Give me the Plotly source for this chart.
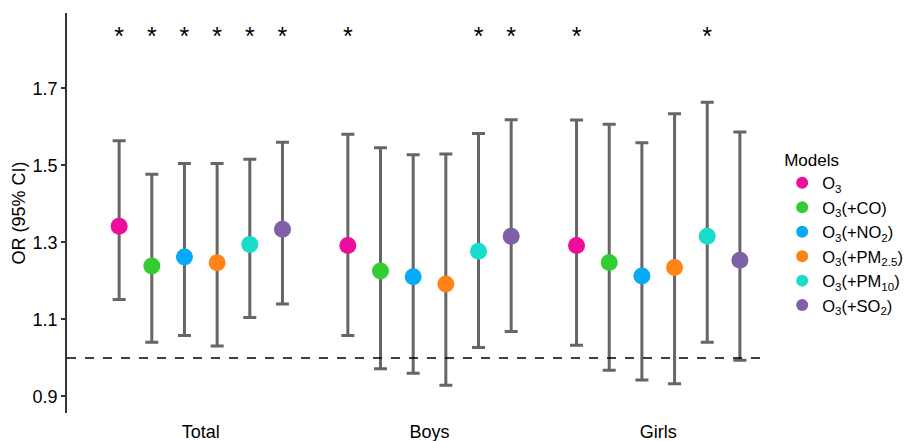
import plotly.graph_objects as go

groups = ["Total", "Boys", "Girls"]
models = ["O<sub>3</sub>", "O<sub>3</sub>(+CO)", "O<sub>3</sub>(+NO<sub>2</sub>)",
          "O<sub>3</sub>(+PM<sub>2.5</sub>)", "O<sub>3</sub>(+PM<sub>10</sub>)", "O<sub>3</sub>(+SO<sub>2</sub>)"]
colors = ["#F00C9B", "#33CC33", "#06AAF5", "#FF8415", "#19DDCB", "#7F5FA8"]

# OR estimates per model, ordered Total, Boys, Girls
or_O3 = [1.342, 1.292, 1.292]
or_CO = [1.239, 1.226, 1.248]
or_NO2 = [1.262, 1.211, 1.213]
or_PM25 = [1.247, 1.192, 1.235]
or_PM10 = [1.295, 1.277, 1.316]
or_SO2 = [1.334, 1.316, 1.254]

lo_O3 = [1.152, 1.058, 1.033]
lo_CO = [1.041, 0.972, 0.968]
lo_NO2 = [1.058, 0.960, 0.943]
lo_PM25 = [1.031, 0.929, 0.933]
lo_PM10 = [1.105, 1.027, 1.041]
lo_SO2 = [1.140, 1.069, 0.994]

hi_O3 = [1.564, 1.581, 1.618]
hi_CO = [1.477, 1.546, 1.607]
hi_NO2 = [1.505, 1.528, 1.559]
hi_PM25 = [1.505, 1.530, 1.634]
hi_PM10 = [1.516, 1.583, 1.664]
hi_SO2 = [1.560, 1.619, 1.587]

# significance flags (1 = "*")
sig_O3 = [1, 1, 1]
sig_CO = [1, 0, 0]
sig_NO2 = [1, 0, 0]
sig_PM25 = [1, 0, 0]
sig_PM10 = [1, 1, 1]
sig_SO2 = [1, 1, 0]

ORs = [or_O3, or_CO, or_NO2, or_PM25, or_PM10, or_SO2]
LOs = [lo_O3, lo_CO, lo_NO2, lo_PM25, lo_PM10, lo_SO2]
HIs = [hi_O3, hi_CO, hi_NO2, hi_PM25, hi_PM10, hi_SO2]
SIGs = [sig_O3, sig_CO, sig_NO2, sig_PM25, sig_PM10, sig_SO2]

y_ticks = [0.9, 1.1, 1.3, 1.5, 1.7]
NULL_OR = 1.0
STAR_Y = 1.83
DODGE = 0.857

FONT = "Liberation Sans, Arial"

fig = go.Figure()
n = len(models)
step = DODGE / n
for i, (m, c) in enumerate(zip(models, colors)):
    off = (i - (n - 1) / 2) * step
    xs = [g + off for g in range(len(groups))]
    est = ORs[i]
    fig.add_trace(go.Scatter(
        x=xs, y=est, mode="markers", name=m,
        marker=dict(color=c, size=17, line=dict(width=0)),
        error_y=dict(type="data", symmetric=False,
                     array=[h - e for h, e in zip(HIs[i], est)],
                     arrayminus=[e - l for e, l in zip(est, LOs[i])],
                     color="#666666", thickness=3, width=6.5),
    ))
    sx = [x for x, s in zip(xs, SIGs[i]) if s]
    fig.add_trace(go.Scatter(
        x=sx, y=[STAR_Y] * len(sx), mode="text", text=["*"] * len(sx),
        textfont=dict(size=25, color="black", family=FONT),
        showlegend=False, hoverinfo="skip"))

fig.add_hline(y=NULL_OR, line=dict(color="black", width=1.5, dash="dash"))

fig.update_layout(
    width=920, height=441,
    margin=dict(l=67, r=138, t=13, b=28),
    paper_bgcolor="white", plot_bgcolor="white",
    font=dict(family=FONT, size=18, color="black"),
    showlegend=True,
    legend=dict(title=dict(text="Models", font=dict(size=17)), font=dict(size=16.5),
                x=1.032, xanchor="left", y=0.45, yanchor="middle",
                tracegroupgap=0, itemsizing="constant"),
    xaxis=dict(range=[-0.585, 2.445], tickvals=list(range(len(groups))), ticktext=groups,
               showgrid=False, zeroline=False, showline=False, ticks="outside",
               ticklen=2, tickcolor="rgba(0,0,0,0)", tickfont=dict(size=18),
               automargin=False),
    yaxis=dict(range=[0.857, 1.896], tickvals=y_ticks, ticktext=[f"{v:.1f}" for v in y_ticks],
               showgrid=False, zeroline=False, showline=True, linecolor="#333333", linewidth=1.5,
               ticks="outside", ticklen=4, tickcolor="#333333", tickwidth=1.5,
               title=dict(text="OR (95% CI)", font=dict(size=18), standoff=2),
               tickfont=dict(size=18), automargin=False),
)

fig.write_html("out.html", config={"displayModeBar": False},
               post_script="document.body.style.margin='0';document.body.style.overflow='hidden';")
